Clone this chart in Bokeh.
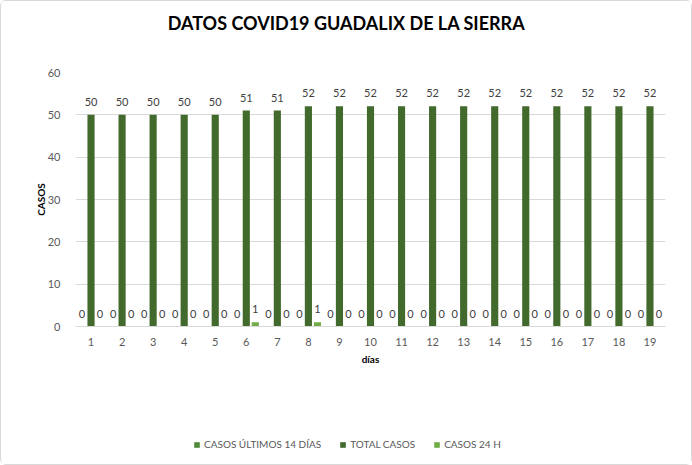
from bokeh.plotting import figure
from bokeh.layouts import column
from bokeh.models import (ColumnDataSource, FactorRange, Range1d, FixedTicker, Legend,
                          LegendItem, Label)
from bokeh.transform import dodge
from bokeh.embed import file_html
from bokeh.resources import INLINE
from bokeh.core.properties import value

dias = ["1", "2", "3", "4", "5", "6", "7", "8", "9", "10",
        "11", "12", "13", "14", "15", "16", "17", "18", "19"]
ultimos14 = [0, 0, 0, 0, 0, 0, 0, 0, 0, 0, 0, 0, 0, 0, 0, 0, 0, 0, 0]
total = [50, 50, 50, 50, 50, 51, 51, 52, 52, 52, 52, 52, 52, 52, 52, 52, 52, 52, 52]
casos24 = [0, 0, 0, 0, 0, 1, 0, 1, 0, 0, 0, 0, 0, 0, 0, 0, 0, 0, 0]
series_names = ["CASOS ÚLTIMOS 14 DÍAS", "TOTAL CASOS", "CASOS 24 H"]
y_ticks = [0, 10, 20, 30, 40, 50, 60]
title_text = "DATOS COVID19 GUADALIX DE LA SIERRA"

src = ColumnDataSource(dict(
    dias=dias, ultimos14=ultimos14, total=total, casos24=casos24,
    l1=[str(v) for v in ultimos14], l2=[str(v) for v in total], l3=[str(v) for v in casos24],
))

FONT = "Lato"
W = 690


def blank_fig(h):
    f = figure(width=W, height=h, x_range=Range1d(0, 1), y_range=Range1d(0, 1),
               output_backend="svg", toolbar_location=None,
               x_axis_location=None, y_axis_location=None, min_border=0)
    f.outline_line_color = None
    f.xgrid.visible = False
    f.ygrid.visible = False
    f.background_fill_color = "white"
    f.border_fill_color = "white"
    return f


# title strip (its frame is aligned with the main chart frame)
t = blank_fig(45)
t.add_layout(Label(x=271, y=24, x_units="screen", y_units="screen", text=title_text,
                   text_align="center", text_baseline="middle", text_font=FONT,
                   text_font_style="bold", text_font_size="18px", text_color="#000000"))

# main chart
p = figure(width=W, height=355, x_range=FactorRange(*dias, range_padding=0),
           y_range=Range1d(0, 60), output_backend="svg", toolbar_location=None,
           min_border_left=74, min_border_right=26, min_border_top=26, min_border_bottom=75)
p.outline_line_color = None
p.background_fill_color = "white"
p.border_fill_color = "white"

p.xgrid.grid_line_color = None
p.ygrid.grid_line_color = "#d9d9d9"
p.yaxis.ticker = FixedTicker(ticks=y_ticks)
for ax in (p.xaxis, p.yaxis):
    ax.axis_line_color = None
    ax.major_tick_line_color = None
    ax.minor_tick_line_color = None
    ax.major_label_text_font = FONT
    ax.major_label_text_font_size = "11px"
    ax.major_label_text_color = "#595959"
    ax.axis_label_text_font = FONT
    ax.axis_label_text_font_style = "bold"
    ax.axis_label_text_font_size = "10px"
    ax.axis_label_text_color = "#000000"
p.xaxis.axis_line_color = "#d9d9d9"
p.yaxis.major_label_standoff = 9
p.xaxis.major_label_standoff = 5
p.yaxis.axis_label = "CASOS"
p.xaxis.axis_label = "días"
p.yaxis.axis_label_standoff = -2
p.xaxis.axis_label_standoff = 4

colors = ["#4f8a38", "#436a2d", "#70ad47"]
off = 0.29
w = 0.23
cols = ["ultimos14", "total", "casos24"]
lbls = ["l1", "l2", "l3"]
offs = [-off, 0, off]
for col, lbl, o, c in zip(cols, lbls, offs, colors):
    p.vbar(x=dodge("dias", o, range=p.x_range), top=col, width=w, source=src,
           fill_color=c, line_color=None)
    p.text(x=dodge("dias", o, range=p.x_range), y=col, text=lbl, source=src,
           text_align="center", text_baseline="bottom", y_offset=-9,
           text_font=value(FONT), text_font_size="11px", text_color="#404040")

# legend strip: swatch renderers hold one zero-height bar outside the visible range
lg = blank_fig(63)
swatch = ColumnDataSource(dict(x=[-5], top=[0]))
lrends = [lg.vbar(x="x", top="top", width=0.1, source=swatch, fill_color=c, line_color=None)
          for c in colors]
legend = Legend(items=[LegendItem(label=n, renderers=[r]) for n, r in zip(series_names, lrends)],
                orientation="horizontal", location=(118, 14),
                label_text_font=FONT, label_text_font_size="10px", label_text_color="#595959",
                glyph_width=7, glyph_height=7, spacing=18, label_standoff=4,
                padding=0, margin=0, border_line_color=None, background_fill_alpha=0)
lg.add_layout(legend, "center")

layout = column(t, p, lg, spacing=0,
                styles={"border": "1px solid #d9d9d9", "border-radius": "6px"})
open("out.html", "w").write(file_html(layout, INLINE))
